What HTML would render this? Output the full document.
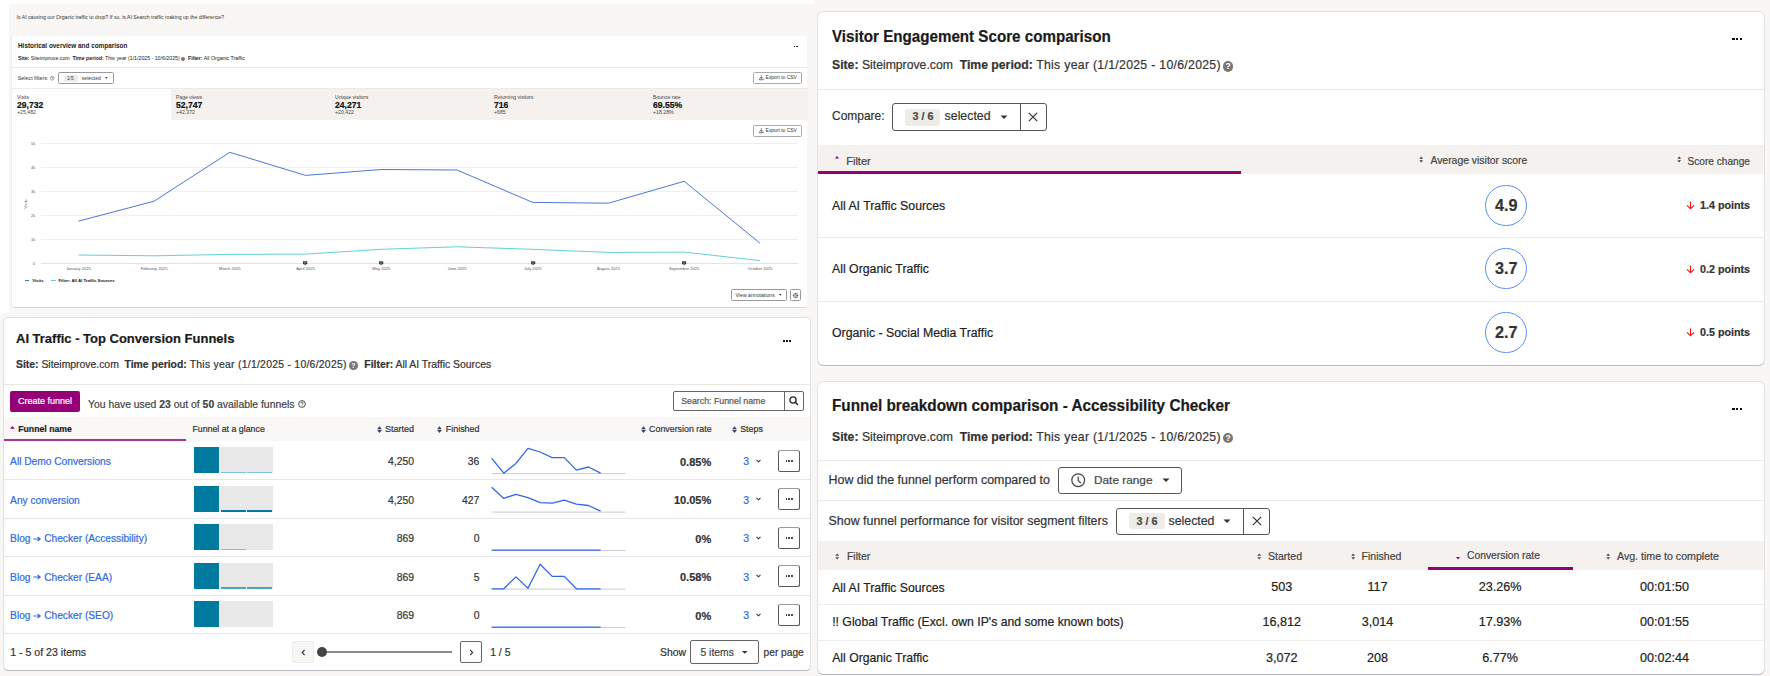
<!DOCTYPE html><html><head><meta charset="utf-8"><style>
html,body{margin:0;padding:0}
body{width:1770px;height:676px;position:relative;overflow:hidden;background:#f8f7f5;font-family:"Liberation Sans",sans-serif}
.a{position:absolute}
.t{position:absolute;white-space:pre;line-height:1}
.k{-webkit-text-stroke:0.2px currentColor}
svg{position:absolute;overflow:visible}
</style></head><body>
<div class="a" style="left:0.00px;top:0.00px;width:814.00px;height:312.50px;background:#fff"></div>
<div class="a" style="left:9.00px;top:4.00px;width:805.00px;height:308.50px;background:#f8f7f5"></div>
<div class="t" style="left:16.60px;top:14.64px;font-size:5.15px;color:#333;">Is AI causing our Organic traffic to drop? If so, is AI Search traffic making up the difference?</div>
<div class="a" style="left:12.00px;top:36.00px;width:795.00px;height:271.30px;background:#fff;border-radius:2px;box-shadow:-0.6px 0 0 #e8e6e3,0 0.8px 0.6px #c9cbd0"></div>
<div class="t" style="left:18.00px;top:42.88px;font-size:6.4px;font-weight:700;color:#1a1a1a;">Historical overview and comparison</div>
<div class="a" style="left:794.40px;top:45.80px;width:1.00px;height:1.00px;background:#222"></div>
<div class="a" style="left:795.70px;top:45.80px;width:1.00px;height:1.00px;background:#222"></div>
<div class="a" style="left:797.00px;top:45.80px;width:1.00px;height:1.00px;background:#222"></div>
<div class="t" style="left:18.00px;top:56.17px;font-size:5.23px;color:#222;"><b>Site:</b> Siteimprove.com  <b>Time period:</b> This year (1/1/2025 - 10/6/2025) <span style="display:inline-block;width:4px;height:4px;border-radius:50%;background:#777;vertical-align:-0.5px"></span>  <b>Filter:</b> All Organic Traffic</div>
<div class="a" style="left:12.00px;top:67.00px;width:795.50px;height:0.60px;background:#eeeae6"></div>
<div class="t" style="left:17.80px;top:76.29px;font-size:5.33px;color:#333;">Select filters:</div>
<svg style="left:50.2px;top:75.8px" width="5" height="5"><circle cx="2.3" cy="2.3" r="1.9" fill="none" stroke="#555" stroke-width="0.5"/><path d="M1.6 1.8 Q1.6 1.1 2.3 1.1 Q3 1.1 3 1.7 Q3 2.2 2.3 2.4 V2.9" fill="none" stroke="#555" stroke-width="0.45"/><circle cx="2.3" cy="3.5" r="0.25" fill="#555"/></svg>
<div class="a" style="left:58.20px;top:72.20px;width:55.40px;height:11.50px;border:0.6px solid #999;border-radius:1.5px;box-sizing:border-box"></div>
<div class="a" style="left:63.90px;top:74.50px;width:14.00px;height:7.00px;background:#efece8;border-radius:1px"></div>
<div class="t" style="left:66.80px;top:76.37px;font-size:5px;color:#444;">1/5</div>
<div class="t" style="left:81.70px;top:76.20px;font-size:5.2px;color:#444;">selected</div>
<svg style="left:105.3px;top:77.2px" width="3" height="2"><path d="M0 0 L2.6 0 L1.3 1.7Z" fill="#333"/></svg>
<div class="a" style="left:753.40px;top:72.00px;width:48.30px;height:11.90px;border:0.7px solid #aaa;border-radius:1.5px;box-sizing:border-box;background:#fff"></div>
<div class="t" style="left:765.60px;top:76.12px;font-size:4.94px;color:#333;">Export to CSV</div>
<svg style="left:758.6px;top:75.20px" width="5" height="6"><path d="M2.3 0.2 V3.6 M0.9 2.3 L2.3 3.7 L3.7 2.3 M0.4 3.4 V4.8 H4.2 V3.4" stroke="#333" stroke-width="0.65" fill="none"/></svg>
<div class="a" style="left:753.40px;top:124.90px;width:48.30px;height:11.90px;border:0.7px solid #aaa;border-radius:1.5px;box-sizing:border-box;background:#fff"></div>
<div class="t" style="left:765.60px;top:129.02px;font-size:4.94px;color:#333;">Export to CSV</div>
<svg style="left:758.6px;top:128.10px" width="5" height="6"><path d="M2.3 0.2 V3.6 M0.9 2.3 L2.3 3.7 L3.7 2.3 M0.4 3.4 V4.8 H4.2 V3.4" stroke="#333" stroke-width="0.65" fill="none"/></svg>
<div class="a" style="left:12.00px;top:88.20px;width:795.50px;height:0.60px;background:#eeeae6"></div>
<div class="a" style="left:171.00px;top:88.80px;width:636.50px;height:31.00px;background:#f4f1ee"></div>
<div class="a" style="left:330.00px;top:88.80px;width:0.60px;height:31.00px;background:#f7f5f3"></div>
<div class="a" style="left:489.00px;top:88.80px;width:0.60px;height:31.00px;background:#f7f5f3"></div>
<div class="a" style="left:648.00px;top:88.80px;width:0.60px;height:31.00px;background:#f7f5f3"></div>
<div class="t" style="left:17.00px;top:95.18px;font-size:5.1px;color:#444;">Visits</div>
<div class="t k" style="left:17.00px;top:101.22px;font-size:8.6px;font-weight:700;color:#111;">29,732</div>
<div class="t" style="left:17.00px;top:110.40px;font-size:5.2px;color:#444;">+25,482</div>
<div class="t" style="left:176.00px;top:95.18px;font-size:5.1px;color:#444;">Page views</div>
<div class="t k" style="left:176.00px;top:101.22px;font-size:8.6px;font-weight:700;color:#111;">52,747</div>
<div class="t" style="left:176.00px;top:110.40px;font-size:5.2px;color:#444;">+42,372</div>
<div class="t" style="left:335.00px;top:95.18px;font-size:5.1px;color:#444;">Unique visitors</div>
<div class="t k" style="left:335.00px;top:101.22px;font-size:8.6px;font-weight:700;color:#111;">24,271</div>
<div class="t" style="left:335.00px;top:110.40px;font-size:5.2px;color:#444;">+20,422</div>
<div class="t" style="left:494.00px;top:95.18px;font-size:5.1px;color:#444;">Returning visitors</div>
<div class="t k" style="left:494.00px;top:101.22px;font-size:8.6px;font-weight:700;color:#111;">716</div>
<div class="t" style="left:494.00px;top:110.40px;font-size:5.2px;color:#444;">+685</div>
<div class="t" style="left:653.00px;top:95.18px;font-size:5.1px;color:#444;">Bounce rate</div>
<div class="t k" style="left:653.00px;top:101.22px;font-size:8.6px;font-weight:700;color:#111;">69.55%</div>
<div class="t" style="left:653.00px;top:110.40px;font-size:5.2px;color:#444;">+18.28%</div>
<div class="a" style="left:40.80px;top:143.00px;width:757.00px;height:0.60px;background:#efefef"></div>
<div class="t" style="right:1734.70px;top:142.31px;font-size:4px;color:#555;">5k</div>
<div class="a" style="left:40.80px;top:166.90px;width:757.00px;height:0.60px;background:#efefef"></div>
<div class="t" style="right:1734.70px;top:166.21px;font-size:4px;color:#555;">4k</div>
<div class="a" style="left:40.80px;top:190.80px;width:757.00px;height:0.60px;background:#efefef"></div>
<div class="t" style="right:1734.70px;top:190.11px;font-size:4px;color:#555;">3k</div>
<div class="a" style="left:40.80px;top:215.00px;width:757.00px;height:0.60px;background:#efefef"></div>
<div class="t" style="right:1734.70px;top:214.31px;font-size:4px;color:#555;">2k</div>
<div class="a" style="left:40.80px;top:238.90px;width:757.00px;height:0.60px;background:#efefef"></div>
<div class="t" style="right:1734.70px;top:238.21px;font-size:4px;color:#555;">1k</div>
<div class="a" style="left:40.80px;top:262.80px;width:757.00px;height:0.60px;background:#dfe4ee"></div>
<div class="t" style="right:1734.70px;top:262.11px;font-size:4px;color:#555;">0</div>
<div class="t" style="left:25.9px;top:203.5px;font-size:4px;color:#666;transform:translate(-50%,-50%) rotate(-90deg);transform-origin:50% 50%">Visits</div>
<div class="t" style="left:78.40px;transform:translateX(-50%);top:266.93px;font-size:4.1px;color:#555;">January 2025</div>
<div class="t" style="left:154.12px;transform:translateX(-50%);top:266.93px;font-size:4.1px;color:#555;">February 2025</div>
<div class="t" style="left:229.84px;transform:translateX(-50%);top:266.93px;font-size:4.1px;color:#555;">March 2025</div>
<div class="t" style="left:305.56px;transform:translateX(-50%);top:266.93px;font-size:4.1px;color:#555;">April 2025</div>
<div class="t" style="left:381.28px;transform:translateX(-50%);top:266.93px;font-size:4.1px;color:#555;">May 2025</div>
<div class="t" style="left:457.00px;transform:translateX(-50%);top:266.93px;font-size:4.1px;color:#555;">June 2025</div>
<div class="t" style="left:532.72px;transform:translateX(-50%);top:266.93px;font-size:4.1px;color:#555;">July 2025</div>
<div class="t" style="left:608.44px;transform:translateX(-50%);top:266.93px;font-size:4.1px;color:#555;">August 2025</div>
<div class="t" style="left:684.16px;transform:translateX(-50%);top:266.93px;font-size:4.1px;color:#555;">September 2025</div>
<div class="t" style="left:759.88px;transform:translateX(-50%);top:266.93px;font-size:4.1px;color:#555;">October 2025</div>
<svg style="left:0;top:0" width="1" height="1"><polyline points="78.4,221.2 154.1,201.2 229.8,152.3 305.6,175.4 381.3,169.5 457.0,170.0 532.7,202.4 608.4,203.2 684.2,181.3 759.9,243.1" fill="none" stroke="#4270d2" stroke-width="0.95"/><polyline points="78.4,255.0 154.1,255.8 229.8,254.4 305.6,254.1 381.3,249.3 457.0,246.8 532.7,249.3 608.4,252.4 684.2,252.1 759.9,260.6" fill="none" stroke="#5ccfd3" stroke-width="0.95"/></svg>
<svg style="left:303.46px;top:260.6px" width="5" height="5"><path d="M0 0.2 H4.2 V3.2 H2.8 L2.1 4.6 L1.4 3.2 H0Z" fill="#333"/><path d="M0.8 1.1 H3.4 M0.8 2.1 H2.8" stroke="#ddd" stroke-width="0.4"/></svg>
<svg style="left:379.18px;top:260.6px" width="5" height="5"><path d="M0 0.2 H4.2 V3.2 H2.8 L2.1 4.6 L1.4 3.2 H0Z" fill="#333"/><path d="M0.8 1.1 H3.4 M0.8 2.1 H2.8" stroke="#ddd" stroke-width="0.4"/></svg>
<svg style="left:530.62px;top:260.6px" width="5" height="5"><path d="M0 0.2 H4.2 V3.2 H2.8 L2.1 4.6 L1.4 3.2 H0Z" fill="#333"/><path d="M0.8 1.1 H3.4 M0.8 2.1 H2.8" stroke="#ddd" stroke-width="0.4"/></svg>
<svg style="left:682.06px;top:260.6px" width="5" height="5"><path d="M0 0.2 H4.2 V3.2 H2.8 L2.1 4.6 L1.4 3.2 H0Z" fill="#333"/><path d="M0.8 1.1 H3.4 M0.8 2.1 H2.8" stroke="#ddd" stroke-width="0.4"/></svg>
<div class="a" style="left:24.70px;top:280.10px;width:4.80px;height:1.00px;background:#4270d2"></div>
<div class="t" style="left:32.30px;top:278.66px;font-size:4.3px;font-weight:700;color:#111;">Visits</div>
<div class="a" style="left:50.60px;top:280.10px;width:5.60px;height:1.00px;background:#5ccfd3"></div>
<div class="t" style="left:58.50px;top:278.65px;font-size:4.31px;font-weight:700;color:#111;">Filter: All AI Traffic Sources</div>
<div class="a" style="left:731.20px;top:289.20px;width:55.60px;height:11.90px;border:0.7px solid #999;border-radius:1.5px;box-sizing:border-box"></div>
<div class="t" style="left:735.50px;top:293.22px;font-size:5.18px;color:#333;">View annotations</div>
<svg style="left:779.2px;top:294.3px" width="3" height="2"><path d="M0 0 L2.6 0 L1.3 1.7Z" fill="#333"/></svg>
<div class="a" style="left:790.20px;top:289.20px;width:11.30px;height:11.90px;border:0.7px solid #999;border-radius:1.5px;box-sizing:border-box"></div>
<svg style="left:792.3px;top:291.6px" width="7" height="7"><circle cx="3.5" cy="3.5" r="2.1" fill="none" stroke="#444" stroke-width="1.1" stroke-dasharray="0.9 0.5"/><circle cx="3.5" cy="3.5" r="0.9" fill="none" stroke="#444" stroke-width="0.6"/></svg>
<div class="a" style="left:4.00px;top:318.00px;width:806.00px;height:351.70px;background:#fff;border-radius:4px;box-shadow:0 1px 0.6px #b9bcc3,0 0 0 1px #e2e2e3"></div>
<div class="t k" style="left:16.00px;transform:scaleX(0.9766131556589008);transform-origin:0 0;top:332.14px;font-size:13.3px;font-weight:700;color:#1a1a1a;">AI Traffic - Top Conversion Funnels</div>
<div class="a" style="left:783.20px;top:340.30px;width:2.00px;height:2.00px;background:#1a1a1a"></div>
<div class="a" style="left:786.20px;top:340.30px;width:2.00px;height:2.00px;background:#1a1a1a"></div>
<div class="a" style="left:789.20px;top:340.30px;width:2.00px;height:2.00px;background:#1a1a1a"></div>
<div class="t k" style="left:16.00px;top:360.30px;font-size:10.4px;color:#333;"><b>Site:</b> Siteimprove.com  <b>Time period:</b> <span style="letter-spacing:0.27px">This year (1/1/2025 - 10/6/2025)</span></div>
<div class="a" style="left:349.10px;top:361.10px;width:8.60px;height:8.60px;background:#777;border-radius:50%;font-size:6.9px;line-height:9.10px;text-align:center;color:#fff;font-weight:700">?</div>
<div class="t k" style="left:364.30px;top:360.30px;font-size:10.4px;color:#333;"><b>Filter:</b> All AI Traffic Sources</div>
<div class="a" style="left:4.00px;top:384.00px;width:806.00px;height:1.00px;background:#ebe8e4"></div>
<div class="a" style="left:9.90px;top:391.00px;width:70.20px;height:20.60px;background:#950076;border-radius:2px"></div>
<div class="t k" style="left:18.00px;top:396.58px;font-size:9px;color:#fff;">Create funnel</div>
<div class="t k" style="left:88.00px;top:399.70px;font-size:10.4px;color:#444;">You have used <b>23</b> out of <b>50</b> available funnels</div>
<svg style="left:297.70px;top:400.10px" width="8" height="8"><circle cx="4" cy="4" r="3.4" fill="none" stroke="#444" stroke-width="0.95"/><path d="M2.9 3.2 Q2.9 2.1 4 2.1 Q5.1 2.1 5.1 3 Q5.1 3.7 4.1 4.1 V4.8" fill="none" stroke="#444" stroke-width="0.8"/><circle cx="4.1" cy="5.9" r="0.45" fill="#444"/></svg>
<div class="a" style="left:673.30px;top:391.40px;width:130.40px;height:20.10px;border:1px solid #666;border-radius:2px;box-sizing:border-box;background:#fff"></div>
<div class="a" style="left:784.30px;top:391.40px;width:1.00px;height:20.10px;background:#666"></div>
<div class="t k" style="left:681.20px;top:396.85px;font-size:8.8px;color:#555;">Search: Funnel name</div>
<svg style="left:789px;top:396px" width="10" height="10"><circle cx="4" cy="4" r="3.1" fill="none" stroke="#222" stroke-width="1.3"/><path d="M6.3 6.3 L9 9" stroke="#222" stroke-width="1.4"/></svg>
<div class="a" style="left:4.00px;top:417.30px;width:806.00px;height:23.70px;background:#f9f8f6"></div>
<div class="a" style="left:4.00px;top:438.80px;width:182.30px;height:2.30px;background:#a8358f"></div>
<svg style="left:10px;top:426.3px" width="5" height="3"><path d="M0 2.8 L2.4 0 L4.8 2.8Z" fill="#950076"/></svg>
<div class="t k" style="left:18.20px;top:425.43px;font-size:8.71px;font-weight:700;color:#222;">Funnel name</div>
<div class="t k" style="left:192.40px;top:425.34px;font-size:8.81px;color:#333;">Funnel at a glance</div>
<svg style="left:377.30px;top:426.00px" width="5" height="7.4"><path d="M0.1 3.3 L2.5 0.3 L4.9 3.3Z M0.1 4.1 L2.5 7.1 L4.9 4.1Z" fill="#38425c"/></svg>
<div class="t k" style="right:1356.00px;top:425.19px;font-size:8.99px;color:#333;">Started</div>
<svg style="left:437.30px;top:426.00px" width="5" height="7.4"><path d="M0.1 3.3 L2.5 0.3 L4.9 3.3Z M0.1 4.1 L2.5 7.1 L4.9 4.1Z" fill="#38425c"/></svg>
<div class="t k" style="right:1290.60px;top:425.27px;font-size:8.9px;color:#333;">Finished</div>
<svg style="left:640.50px;top:426.00px" width="5" height="7.4"><path d="M0.1 3.3 L2.5 0.3 L4.9 3.3Z M0.1 4.1 L2.5 7.1 L4.9 4.1Z" fill="#38425c"/></svg>
<div class="t k" style="right:1058.40px;top:425.29px;font-size:8.87px;color:#333;">Conversion rate</div>
<svg style="left:732.00px;top:426.00px" width="5" height="7.4"><path d="M0.1 3.3 L2.5 0.3 L4.9 3.3Z M0.1 4.1 L2.5 7.1 L4.9 4.1Z" fill="#38425c"/></svg>
<div class="t k" style="left:740.20px;top:425.27px;font-size:8.9px;color:#333;">Steps</div>
<div class="t k" style="left:10.10px;top:457.27px;font-size:10.2px;color:#2f6ae0;">All Demo Conversions</div>
<div class="a" style="left:194.00px;top:447.30px;width:25.00px;height:25.90px;background:#007a9e"></div>
<div class="a" style="left:219.00px;top:447.30px;width:54.20px;height:25.90px;background:#e9e9e9"></div>
<div class="a" style="left:220.80px;top:471.70px;width:25.00px;height:1.50px;background:#7fc3d6"></div>
<div class="a" style="left:247.30px;top:471.70px;width:24.70px;height:1.50px;background:#7fc3d6"></div>
<div class="t k" style="right:1356.00px;top:457.10px;font-size:10.4px;color:#333;">4,250</div>
<div class="t k" style="right:1290.60px;top:457.10px;font-size:10.4px;color:#333;">36</div>
<svg style="left:0;top:0" width="1" height="1"><path d="M491.7 473.6 H625.3" stroke="#c9ccd3" stroke-width="1"/><polyline points="491.7,458.3 503.8,473.2 515.9,463.4 528.0,448.3 540.1,452.0 552.2,457.6 564.3,457.6 576.4,470.1 588.5,467.0 600.6,473.2" fill="none" stroke="#3366e8" stroke-width="1.3" stroke-linejoin="round"/></svg>
<div class="t k" style="right:1058.80px;top:456.59px;font-size:11.0px;font-weight:700;color:#333;">0.85%</div>
<div class="t k" style="left:743.30px;top:457.10px;font-size:10.4px;color:#2f6ae0;">3</div>
<svg style="left:756.3px;top:458.6px" width="5" height="4"><path d="M0.5 0.8 L2.5 2.8 L4.5 0.8" stroke="#333" stroke-width="1.05" fill="none"/></svg>
<div class="a" style="left:778.00px;top:449.50px;width:22.20px;height:22.10px;border:1px solid #5a5a5a;border-top-color:#9a9a9a;border-radius:2.5px;box-sizing:border-box"></div>
<div class="a" style="left:785.50px;top:459.90px;width:1.90px;height:1.90px;background:#111;border-radius:50%"></div>
<div class="a" style="left:788.35px;top:459.90px;width:1.90px;height:1.90px;background:#111;border-radius:50%"></div>
<div class="a" style="left:791.20px;top:459.90px;width:1.90px;height:1.90px;background:#111;border-radius:50%"></div>
<div class="a" style="left:4.00px;top:479.00px;width:806.00px;height:1.00px;background:#e6e7eb"></div>
<div class="t k" style="left:10.10px;top:495.77px;font-size:10.2px;color:#2f6ae0;">Any conversion</div>
<div class="a" style="left:194.00px;top:485.80px;width:25.00px;height:25.90px;background:#007a9e"></div>
<div class="a" style="left:219.00px;top:485.80px;width:54.20px;height:25.90px;background:#e9e9e9"></div>
<div class="a" style="left:220.80px;top:509.70px;width:25.00px;height:2.00px;background:#007a9e"></div>
<div class="a" style="left:247.30px;top:510.20px;width:24.70px;height:1.50px;background:#007a9e"></div>
<div class="t k" style="right:1356.00px;top:495.60px;font-size:10.4px;color:#333;">4,250</div>
<div class="t k" style="right:1290.60px;top:495.60px;font-size:10.4px;color:#333;">427</div>
<svg style="left:0;top:0" width="1" height="1"><path d="M491.7 512.1 H625.3" stroke="#c9ccd3" stroke-width="1"/><polyline points="491.7,487.2 503.8,498.4 515.9,494.3 528.0,497.6 540.1,502.6 552.2,503.2 564.3,500.1 576.4,504.2 588.5,505.5 600.6,511.1" fill="none" stroke="#3366e8" stroke-width="1.3" stroke-linejoin="round"/></svg>
<div class="t k" style="right:1058.80px;top:495.09px;font-size:11.0px;font-weight:700;color:#333;">10.05%</div>
<div class="t k" style="left:743.30px;top:495.60px;font-size:10.4px;color:#2f6ae0;">3</div>
<svg style="left:756.3px;top:497.1px" width="5" height="4"><path d="M0.5 0.8 L2.5 2.8 L4.5 0.8" stroke="#333" stroke-width="1.05" fill="none"/></svg>
<div class="a" style="left:778.00px;top:488.00px;width:22.20px;height:22.10px;border:1px solid #5a5a5a;border-top-color:#9a9a9a;border-radius:2.5px;box-sizing:border-box"></div>
<div class="a" style="left:785.50px;top:498.40px;width:1.90px;height:1.90px;background:#111;border-radius:50%"></div>
<div class="a" style="left:788.35px;top:498.40px;width:1.90px;height:1.90px;background:#111;border-radius:50%"></div>
<div class="a" style="left:791.20px;top:498.40px;width:1.90px;height:1.90px;background:#111;border-radius:50%"></div>
<div class="a" style="left:4.00px;top:517.50px;width:806.00px;height:1.00px;background:#e6e7eb"></div>
<div class="t k" style="left:10.10px;top:534.27px;font-size:10.2px;color:#2f6ae0;">Blog <svg style="position:relative;display:inline-block;vertical-align:0.5px" width="8" height="6" viewBox="0 0 8 6"><path d="M0.3 3 H6.8 M4.6 1 L7.2 3 L4.6 5" stroke="#2f6ae0" stroke-width="1.1" fill="none"/></svg> Checker (Accessibility)</div>
<div class="a" style="left:194.00px;top:524.30px;width:25.00px;height:25.90px;background:#007a9e"></div>
<div class="a" style="left:219.00px;top:524.30px;width:54.20px;height:25.90px;background:#e9e9e9"></div>
<div class="a" style="left:220.80px;top:548.70px;width:25.00px;height:1.50px;background:#7fc3d6"></div>
<div class="t k" style="right:1356.00px;top:534.10px;font-size:10.4px;color:#333;">869</div>
<div class="t k" style="right:1290.60px;top:534.10px;font-size:10.4px;color:#333;">0</div>
<svg style="left:0;top:0" width="1" height="1"><path d="M491.7 550.6 H625.3" stroke="#c9ccd3" stroke-width="1"/><polyline points="491.7,550.2 503.8,550.2 515.9,550.2 528.0,550.2 540.1,550.2 552.2,550.2 564.3,550.2 576.4,550.2 588.5,550.2 600.6,550.2" fill="none" stroke="#3366e8" stroke-width="1.3" stroke-linejoin="round"/></svg>
<div class="t k" style="right:1058.80px;top:533.59px;font-size:11.0px;font-weight:700;color:#333;">0%</div>
<div class="t k" style="left:743.30px;top:534.10px;font-size:10.4px;color:#2f6ae0;">3</div>
<svg style="left:756.3px;top:535.6px" width="5" height="4"><path d="M0.5 0.8 L2.5 2.8 L4.5 0.8" stroke="#333" stroke-width="1.05" fill="none"/></svg>
<div class="a" style="left:778.00px;top:526.50px;width:22.20px;height:22.10px;border:1px solid #5a5a5a;border-top-color:#9a9a9a;border-radius:2.5px;box-sizing:border-box"></div>
<div class="a" style="left:785.50px;top:536.90px;width:1.90px;height:1.90px;background:#111;border-radius:50%"></div>
<div class="a" style="left:788.35px;top:536.90px;width:1.90px;height:1.90px;background:#111;border-radius:50%"></div>
<div class="a" style="left:791.20px;top:536.90px;width:1.90px;height:1.90px;background:#111;border-radius:50%"></div>
<div class="a" style="left:4.00px;top:556.00px;width:806.00px;height:1.00px;background:#e6e7eb"></div>
<div class="t k" style="left:10.10px;top:572.77px;font-size:10.2px;color:#2f6ae0;">Blog <svg style="position:relative;display:inline-block;vertical-align:0.5px" width="8" height="6" viewBox="0 0 8 6"><path d="M0.3 3 H6.8 M4.6 1 L7.2 3 L4.6 5" stroke="#2f6ae0" stroke-width="1.1" fill="none"/></svg> Checker (EAA)</div>
<div class="a" style="left:194.00px;top:562.80px;width:25.00px;height:25.90px;background:#007a9e"></div>
<div class="a" style="left:219.00px;top:562.80px;width:54.20px;height:25.90px;background:#e9e9e9"></div>
<div class="a" style="left:220.80px;top:587.40px;width:25.00px;height:1.30px;background:#4aa3bf"></div>
<div class="a" style="left:247.30px;top:587.40px;width:24.70px;height:1.30px;background:#4aa3bf"></div>
<div class="t k" style="right:1356.00px;top:572.60px;font-size:10.4px;color:#333;">869</div>
<div class="t k" style="right:1290.60px;top:572.60px;font-size:10.4px;color:#333;">5</div>
<svg style="left:0;top:0" width="1" height="1"><path d="M491.7 589.1 H625.3" stroke="#c9ccd3" stroke-width="1"/><polyline points="491.7,588.8 503.8,588.8 515.9,576.9 528.0,588.3 540.1,564.3 552.2,576.4 564.3,576.4 576.4,588.8 588.5,588.8 600.6,588.8" fill="none" stroke="#3366e8" stroke-width="1.3" stroke-linejoin="round"/></svg>
<div class="t k" style="right:1058.80px;top:572.09px;font-size:11.0px;font-weight:700;color:#333;">0.58%</div>
<div class="t k" style="left:743.30px;top:572.60px;font-size:10.4px;color:#2f6ae0;">3</div>
<svg style="left:756.3px;top:574.1px" width="5" height="4"><path d="M0.5 0.8 L2.5 2.8 L4.5 0.8" stroke="#333" stroke-width="1.05" fill="none"/></svg>
<div class="a" style="left:778.00px;top:565.00px;width:22.20px;height:22.10px;border:1px solid #5a5a5a;border-top-color:#9a9a9a;border-radius:2.5px;box-sizing:border-box"></div>
<div class="a" style="left:785.50px;top:575.40px;width:1.90px;height:1.90px;background:#111;border-radius:50%"></div>
<div class="a" style="left:788.35px;top:575.40px;width:1.90px;height:1.90px;background:#111;border-radius:50%"></div>
<div class="a" style="left:791.20px;top:575.40px;width:1.90px;height:1.90px;background:#111;border-radius:50%"></div>
<div class="a" style="left:4.00px;top:594.50px;width:806.00px;height:1.00px;background:#e6e7eb"></div>
<div class="t k" style="left:10.10px;top:611.27px;font-size:10.2px;color:#2f6ae0;">Blog <svg style="position:relative;display:inline-block;vertical-align:0.5px" width="8" height="6" viewBox="0 0 8 6"><path d="M0.3 3 H6.8 M4.6 1 L7.2 3 L4.6 5" stroke="#2f6ae0" stroke-width="1.1" fill="none"/></svg> Checker (SEO)</div>
<div class="a" style="left:194.00px;top:601.30px;width:25.00px;height:25.90px;background:#007a9e"></div>
<div class="a" style="left:219.00px;top:601.30px;width:54.20px;height:25.90px;background:#e9e9e9"></div>
<div class="t k" style="right:1356.00px;top:611.10px;font-size:10.4px;color:#333;">869</div>
<div class="t k" style="right:1290.60px;top:611.10px;font-size:10.4px;color:#333;">0</div>
<svg style="left:0;top:0" width="1" height="1"><path d="M491.7 627.6 H625.3" stroke="#c9ccd3" stroke-width="1"/><polyline points="491.7,627.2 503.8,627.2 515.9,627.2 528.0,627.2 540.1,627.2 552.2,627.2 564.3,627.2 576.4,627.2 588.5,627.2 600.6,627.2" fill="none" stroke="#3366e8" stroke-width="1.3" stroke-linejoin="round"/></svg>
<div class="t k" style="right:1058.80px;top:610.59px;font-size:11.0px;font-weight:700;color:#333;">0%</div>
<div class="t k" style="left:743.30px;top:611.10px;font-size:10.4px;color:#2f6ae0;">3</div>
<svg style="left:756.3px;top:612.6px" width="5" height="4"><path d="M0.5 0.8 L2.5 2.8 L4.5 0.8" stroke="#333" stroke-width="1.05" fill="none"/></svg>
<div class="a" style="left:778.00px;top:603.50px;width:22.20px;height:22.10px;border:1px solid #5a5a5a;border-top-color:#9a9a9a;border-radius:2.5px;box-sizing:border-box"></div>
<div class="a" style="left:785.50px;top:613.90px;width:1.90px;height:1.90px;background:#111;border-radius:50%"></div>
<div class="a" style="left:788.35px;top:613.90px;width:1.90px;height:1.90px;background:#111;border-radius:50%"></div>
<div class="a" style="left:791.20px;top:613.90px;width:1.90px;height:1.90px;background:#111;border-radius:50%"></div>
<div class="a" style="left:4.00px;top:633.00px;width:806.00px;height:1.00px;background:#ebe8e4"></div>
<div class="t k" style="left:10.20px;top:647.43px;font-size:10.6px;color:#333;">1 - 5 of 23 items</div>
<div class="a" style="left:292.40px;top:641.40px;width:21.20px;height:21.50px;background:#f7f6f4;border:1px solid #efedeb;box-sizing:border-box;border-radius:2px"></div>
<svg style="left:300.8px;top:648.8px" width="5" height="7"><path d="M3.6 0.9 L1.2 3.5 L3.6 6.1" stroke="#333" stroke-width="1.15" fill="none"/></svg>
<div class="a" style="left:322.00px;top:651.20px;width:130.00px;height:1.60px;background:#8c8c8c"></div>
<div class="a" style="left:317px;top:647.1px;width:10px;height:10px;border-radius:50%;background:#454545"></div>
<div class="a" style="left:459.90px;top:641.40px;width:21.70px;height:21.50px;border:1px solid #666;border-radius:2px;box-sizing:border-box"></div>
<svg style="left:468.6px;top:648.8px" width="5" height="7"><path d="M1.2 0.9 L3.6 3.5 L1.2 6.1" stroke="#333" stroke-width="1.15" fill="none"/></svg>
<div class="t k" style="left:490.20px;top:647.60px;font-size:10.4px;color:#333;">1 / 5</div>
<div class="t k" style="left:660.00px;top:647.60px;font-size:10.4px;color:#333;">Show</div>
<div class="a" style="left:690.20px;top:640.00px;width:68.40px;height:23.80px;border:1px solid #666;border-radius:2px;box-sizing:border-box"></div>
<div class="t k" style="left:700.50px;top:647.66px;font-size:10.33px;color:#444;">5 items</div>
<svg style="left:742.2px;top:650.6px" width="6" height="4"><path d="M0 0 L5.6 0 L2.8 2.8Z" fill="#333"/></svg>
<div class="t k" style="left:763.60px;top:647.78px;font-size:10.18px;color:#333;">per page</div>
<div class="a" style="left:818.00px;top:12.00px;width:946.00px;height:352.50px;background:#fff;border-radius:5px;box-shadow:0 1px 0.6px #b9bcc3,0 0 0 1px #e2e2e3"></div>
<div class="t k" style="left:832.00px;transform:scaleX(0.9315137097783899);transform-origin:0 0;top:27.80px;font-size:16.3px;font-weight:700;color:#1a1a1a;">Visitor Engagement Score comparison</div>
<div class="a" style="left:1732.40px;top:37.60px;width:2.40px;height:2.40px;background:#111"></div>
<div class="a" style="left:1736.00px;top:37.60px;width:2.40px;height:2.40px;background:#111"></div>
<div class="a" style="left:1739.60px;top:37.60px;width:2.40px;height:2.40px;background:#111"></div>
<div class="t k" style="left:832.00px;top:58.95px;font-size:12.23px;color:#333;"><b>Site:</b> Siteimprove.com  <b>Time period:</b> <span style="letter-spacing:0.316px">This year (1/1/2025 - 10/6/2025)</span></div>
<div class="a" style="left:1222.70px;top:61.00px;width:10.60px;height:10.60px;background:#777;border-radius:50%;font-size:8.5px;line-height:11.10px;text-align:center;color:#fff;font-weight:700">?</div>
<div class="a" style="left:818.00px;top:88.50px;width:946.00px;height:1.00px;background:#ebe8e5"></div>
<div class="t k" style="left:832.00px;top:110.58px;font-size:11.96px;color:#333;">Compare:</div>
<div class="a" style="left:892.40px;top:103.20px;width:154.30px;height:27.40px;border:1px solid #555;border-radius:3px;box-sizing:border-box"></div>
<div class="a" style="left:1019.50px;top:103.20px;width:1.00px;height:27.40px;background:#555"></div>
<div class="a" style="left:905.40px;top:108.80px;width:35.10px;height:16.80px;background:#efebe7;border-radius:3px"></div>
<div class="t k" style="left:922.95px;transform:translateX(-50%);top:111.36px;font-size:10.8px;font-weight:700;color:#4a4a4a;">3 / 6</div>
<div class="t k" style="left:944.60px;top:110.25px;font-size:12.35px;color:#333;">selected</div>
<svg style="left:999.5px;top:114.9px" width="8" height="5"><path d="M0.5 0.5 L7.5 0.5 L4 4Z" fill="#333"/></svg>
<svg style="left:1028.0px;top:111.9px" width="10" height="10"><path d="M0.8 0.8 L9.2 9.2 M9.2 0.8 L0.8 9.2" stroke="#333" stroke-width="1.2"/></svg>
<div class="a" style="left:818.00px;top:145.00px;width:946.00px;height:29.00px;background:#f4f1ee"></div>
<div class="a" style="left:818.00px;top:171.00px;width:422.50px;height:3.00px;background:#950076"></div>
<svg style="left:835px;top:156px" width="4" height="3"><path d="M0 2.5 L2 0 L4 2.5Z" fill="#950076"/></svg>
<div class="t k" style="left:846.20px;top:155.63px;font-size:11.07px;color:#444;">Filter</div>
<svg style="left:1419.10px;top:156.30px" width="5" height="7"><path d="M0.3 2.8 L2.2 0.6 L4.1 2.8Z M0.3 4.2 L2.2 6.4 L4.1 4.2Z" fill="#444"/></svg>
<div class="t k" style="left:1430.40px;top:156.29px;font-size:10.41px;color:#444;">Average visitor score</div>
<svg style="left:1677.00px;top:156.30px" width="5" height="7"><path d="M0.3 2.8 L2.2 0.6 L4.1 2.8Z M0.3 4.2 L2.2 6.4 L4.1 4.2Z" fill="#444"/></svg>
<div class="t k" style="left:1687.60px;top:156.54px;font-size:10.11px;color:#444;">Score change</div>
<div class="t k" style="left:832.00px;top:199.59px;font-size:12.3px;color:#222;">All AI Traffic Sources</div>
<div class="a" style="left:1485.4px;top:184.6px;width:41.2px;height:41.2px;box-sizing:border-box;border:1.5px solid #5b8def;border-radius:50%"></div>
<div class="t k" style="left:1506.30px;transform:translateX(-50%);top:196.89px;font-size:16.2px;font-weight:700;color:#333;">4.9</div>
<svg style="left:1686px;top:201.2px" width="9" height="10"><path d="M4.5 0.5 V7.8 M1 4.3 L4.5 7.8 L8 4.3" stroke="#f01818" stroke-width="1.15" fill="none"/></svg>
<div class="t k" style="right:20.00px;top:200.13px;font-size:10.71px;font-weight:700;color:#333;">1.4 points</div>
<div class="a" style="left:818.00px;top:237.00px;width:946.00px;height:1.00px;background:#eeebe8"></div>
<div class="t k" style="left:832.00px;top:263.09px;font-size:12.3px;color:#222;">All Organic Traffic</div>
<div class="a" style="left:1485.4px;top:248.1px;width:41.2px;height:41.2px;box-sizing:border-box;border:1.5px solid #5b8def;border-radius:50%"></div>
<div class="t k" style="left:1506.30px;transform:translateX(-50%);top:260.39px;font-size:16.2px;font-weight:700;color:#333;">3.7</div>
<svg style="left:1686px;top:264.7px" width="9" height="10"><path d="M4.5 0.5 V7.8 M1 4.3 L4.5 7.8 L8 4.3" stroke="#f01818" stroke-width="1.15" fill="none"/></svg>
<div class="t k" style="right:20.00px;top:263.63px;font-size:10.71px;font-weight:700;color:#333;">0.2 points</div>
<div class="a" style="left:818.00px;top:300.50px;width:946.00px;height:1.00px;background:#eeebe8"></div>
<div class="t k" style="left:832.00px;top:326.59px;font-size:12.3px;color:#222;">Organic - Social Media Traffic</div>
<div class="a" style="left:1485.4px;top:311.6px;width:41.2px;height:41.2px;box-sizing:border-box;border:1.5px solid #5b8def;border-radius:50%"></div>
<div class="t k" style="left:1506.30px;transform:translateX(-50%);top:323.89px;font-size:16.2px;font-weight:700;color:#333;">2.7</div>
<svg style="left:1686px;top:328.2px" width="9" height="10"><path d="M4.5 0.5 V7.8 M1 4.3 L4.5 7.8 L8 4.3" stroke="#f01818" stroke-width="1.15" fill="none"/></svg>
<div class="t k" style="right:20.00px;top:327.13px;font-size:10.71px;font-weight:700;color:#333;">0.5 points</div>
<div class="a" style="left:818.00px;top:381.70px;width:946.00px;height:292.60px;background:#fff;border-radius:5px;box-shadow:0 1px 0.6px #b9bcc3,0 0 0 1px #e2e2e3"></div>
<div class="t k" style="left:832.00px;transform:scaleX(0.9824431485081304);transform-origin:0 0;top:398.39px;font-size:15.6px;font-weight:700;color:#1a1a1a;">Funnel breakdown comparison - Accessibility Checker</div>
<div class="a" style="left:1732.40px;top:407.70px;width:2.40px;height:2.40px;background:#111"></div>
<div class="a" style="left:1736.00px;top:407.70px;width:2.40px;height:2.40px;background:#111"></div>
<div class="a" style="left:1739.60px;top:407.70px;width:2.40px;height:2.40px;background:#111"></div>
<div class="t k" style="left:832.00px;top:430.75px;font-size:12.23px;color:#333;"><b>Site:</b> Siteimprove.com  <b>Time period:</b> <span style="letter-spacing:0.316px">This year (1/1/2025 - 10/6/2025)</span></div>
<div class="a" style="left:1222.70px;top:432.80px;width:10.60px;height:10.60px;background:#777;border-radius:50%;font-size:8.5px;line-height:11.10px;text-align:center;color:#fff;font-weight:700">?</div>
<div class="a" style="left:818.00px;top:459.50px;width:946.00px;height:1.00px;background:#ebe8e5"></div>
<div class="t k" style="left:828.60px;top:474.49px;font-size:12.42px;color:#333;">How did the funnel perform compared to</div>
<div class="a" style="left:1057.90px;top:466.60px;width:123.80px;height:27.00px;border:1px solid #555;border-radius:3px;box-sizing:border-box"></div>
<svg style="left:1070.5px;top:473.2px" width="15" height="15"><circle cx="7.2" cy="7.2" r="6.4" fill="none" stroke="#444" stroke-width="1.2"/><path d="M7.2 3.4 V7.4 L9.8 10" stroke="#444" stroke-width="1.2" fill="none"/></svg>
<div class="t k" style="left:1094.00px;top:474.58px;font-size:11.84px;color:#444;">Date range</div>
<svg style="left:1161.7px;top:478.1px" width="8" height="5"><path d="M0.5 0.5 L7.5 0.5 L4 4Z" fill="#333"/></svg>
<div class="a" style="left:818.00px;top:500.00px;width:946.00px;height:1.00px;background:#ebe8e5"></div>
<div class="t k" style="left:828.60px;top:515.49px;font-size:12.41px;color:#333;">Show funnel performance for visitor segment filters</div>
<div class="a" style="left:1116.30px;top:507.70px;width:154.20px;height:27.10px;border:1px solid #555;border-radius:3px;box-sizing:border-box"></div>
<div class="a" style="left:1243.40px;top:507.70px;width:1.00px;height:27.10px;background:#555"></div>
<div class="a" style="left:1129.30px;top:512.90px;width:35.30px;height:16.50px;background:#efebe7;border-radius:3px"></div>
<div class="t k" style="left:1146.95px;transform:translateX(-50%);top:515.96px;font-size:10.8px;font-weight:700;color:#4a4a4a;">3 / 6</div>
<div class="t k" style="left:1168.50px;top:514.85px;font-size:12.35px;color:#333;">selected</div>
<svg style="left:1223.4px;top:519.2px" width="8" height="5"><path d="M0.5 0.5 L7.5 0.5 L4 4Z" fill="#333"/></svg>
<svg style="left:1252.0px;top:516.2px" width="10" height="10"><path d="M0.8 0.8 L9.2 9.2 M9.2 0.8 L0.8 9.2" stroke="#333" stroke-width="1.2"/></svg>
<div class="a" style="left:818.00px;top:541.40px;width:946.00px;height:28.40px;background:#f4f1ee"></div>
<div class="a" style="left:1428.00px;top:567.30px;width:144.70px;height:2.70px;background:#950076"></div>
<svg style="left:834.80px;top:552.50px" width="5" height="7"><path d="M0.3 2.8 L2.2 0.6 L4.1 2.8Z M0.3 4.2 L2.2 6.4 L4.1 4.2Z" fill="#444"/></svg>
<div class="t k" style="left:846.90px;top:551.07px;font-size:10.55px;color:#444;">Filter</div>
<svg style="left:1257.30px;top:552.50px" width="5" height="7"><path d="M0.3 2.8 L2.2 0.6 L4.1 2.8Z M0.3 4.2 L2.2 6.4 L4.1 4.2Z" fill="#444"/></svg>
<div class="t k" style="left:1268.00px;top:551.07px;font-size:10.55px;color:#444;">Started</div>
<svg style="left:1350.80px;top:552.50px" width="5" height="7"><path d="M0.3 2.8 L2.2 0.6 L4.1 2.8Z M0.3 4.2 L2.2 6.4 L4.1 4.2Z" fill="#444"/></svg>
<div class="t k" style="left:1361.50px;top:551.07px;font-size:10.55px;color:#444;">Finished</div>
<svg style="left:1456px;top:556.5px" width="4" height="3"><path d="M0 0 L4 0 L2 2.5Z" fill="#950076"/></svg>
<div class="t k" style="left:1467.00px;top:551.25px;font-size:10.34px;color:#444;">Conversion rate</div>
<svg style="left:1605.80px;top:552.50px" width="5" height="7"><path d="M0.3 2.8 L2.2 0.6 L4.1 2.8Z M0.3 4.2 L2.2 6.4 L4.1 4.2Z" fill="#444"/></svg>
<div class="t k" style="left:1617.00px;top:551.00px;font-size:10.63px;color:#444;">Avg. time to complete</div>
<div class="t k" style="left:832.20px;top:581.65px;font-size:12.23px;color:#222;">All AI Traffic Sources</div>
<div class="t k" style="left:1281.70px;transform:translateX(-50%);top:581.33px;font-size:12.6px;color:#222;">503</div>
<div class="t k" style="left:1377.50px;transform:translateX(-50%);top:581.33px;font-size:12.6px;color:#222;">117</div>
<div class="t k" style="left:1500.00px;transform:translateX(-50%);top:581.33px;font-size:12.6px;color:#222;">23.26%</div>
<div class="t k" style="left:1664.50px;transform:translateX(-50%);top:581.33px;font-size:12.6px;color:#222;">00:01:50</div>
<div class="a" style="left:818.00px;top:603.70px;width:946.00px;height:1.00px;background:#eeebe8"></div>
<div class="t k" style="left:832.20px;top:615.85px;font-size:12.23px;color:#222;">!! Global Traffic (Excl. own IP's and some known bots)</div>
<div class="t k" style="left:1281.70px;transform:translateX(-50%);top:615.53px;font-size:12.6px;color:#222;">16,812</div>
<div class="t k" style="left:1377.50px;transform:translateX(-50%);top:615.53px;font-size:12.6px;color:#222;">3,014</div>
<div class="t k" style="left:1500.00px;transform:translateX(-50%);top:615.53px;font-size:12.6px;color:#222;">17.93%</div>
<div class="t k" style="left:1664.50px;transform:translateX(-50%);top:615.53px;font-size:12.6px;color:#222;">00:01:55</div>
<div class="a" style="left:818.00px;top:639.70px;width:946.00px;height:1.00px;background:#eeebe8"></div>
<div class="t k" style="left:832.20px;top:651.85px;font-size:12.23px;color:#222;">All Organic Traffic</div>
<div class="t k" style="left:1281.70px;transform:translateX(-50%);top:651.53px;font-size:12.6px;color:#222;">3,072</div>
<div class="t k" style="left:1377.50px;transform:translateX(-50%);top:651.53px;font-size:12.6px;color:#222;">208</div>
<div class="t k" style="left:1500.00px;transform:translateX(-50%);top:651.53px;font-size:12.6px;color:#222;">6.77%</div>
<div class="t k" style="left:1664.50px;transform:translateX(-50%);top:651.53px;font-size:12.6px;color:#222;">00:02:44</div>
</body></html>
